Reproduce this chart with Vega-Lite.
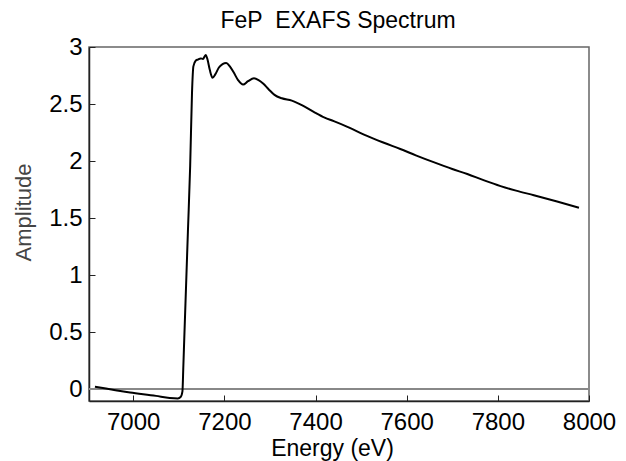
{
  "$schema": "https://vega.github.io/schema/vega-lite/v6.json",
  "autosize": "none",
  "padding": {"left": 89, "top": 47, "right": 37, "bottom": 60},
  "width": 500,
  "height": 354,
  "title": {"text": "FeP\u00a0 EXAFS Spectrum", "font": "Liberation Sans", "fontSize": 23, "fontWeight": "normal", "color": "#000", "offset": 2, "dx": -1},
  "config": {
    "view": {"stroke": "#666", "strokeWidth": 1.5},
    "axis": {"labelFont": "Liberation Sans", "titleFont": "Liberation Sans", "labelColor": "#000", "grid": false, "domainColor": "#222", "tickColor": "#222", "domainWidth": 1.5}
  },
  "data": {"values": [
    {"e": 6916, "a": 0.02}, {"e": 6993, "a": -0.03}, {"e": 7050, "a": -0.06}, {"e": 7080, "a": -0.078},
    {"e": 7098, "a": -0.082}, {"e": 7104, "a": -0.07}, {"e": 7108, "a": -0.02}, {"e": 7110, "a": 0.2},
    {"e": 7112, "a": 0.44}, {"e": 7116, "a": 0.91}, {"e": 7120, "a": 1.38}, {"e": 7125, "a": 1.96},
    {"e": 7129, "a": 2.6}, {"e": 7132, "a": 2.83}, {"e": 7137, "a": 2.88}, {"e": 7142, "a": 2.89},
    {"e": 7148, "a": 2.9}, {"e": 7153, "a": 2.895}, {"e": 7159, "a": 2.93}, {"e": 7163, "a": 2.89},
    {"e": 7168, "a": 2.8}, {"e": 7174, "a": 2.73}, {"e": 7180, "a": 2.76}, {"e": 7188, "a": 2.82},
    {"e": 7196, "a": 2.85}, {"e": 7204, "a": 2.86}, {"e": 7212, "a": 2.83}, {"e": 7220, "a": 2.78},
    {"e": 7230, "a": 2.71}, {"e": 7241, "a": 2.67}, {"e": 7252, "a": 2.7}, {"e": 7265, "a": 2.725},
    {"e": 7275, "a": 2.71}, {"e": 7285, "a": 2.68}, {"e": 7297, "a": 2.63}, {"e": 7310, "a": 2.58},
    {"e": 7326, "a": 2.55}, {"e": 7348, "a": 2.53}, {"e": 7370, "a": 2.49}, {"e": 7396, "a": 2.43},
    {"e": 7420, "a": 2.38}, {"e": 7440, "a": 2.35}, {"e": 7470, "a": 2.3}, {"e": 7513, "a": 2.22},
    {"e": 7550, "a": 2.16}, {"e": 7586, "a": 2.105}, {"e": 7620, "a": 2.05}, {"e": 7659, "a": 1.99},
    {"e": 7700, "a": 1.93}, {"e": 7733, "a": 1.886}, {"e": 7770, "a": 1.83}, {"e": 7806, "a": 1.78},
    {"e": 7840, "a": 1.74}, {"e": 7879, "a": 1.7}, {"e": 7930, "a": 1.645}, {"e": 7978, "a": 1.59}
  ]},
  "layer": [
    {
      "mark": {"type": "rule", "color": "#888", "strokeWidth": 1.2},
      "encoding": {"y": {"datum": 0, "type": "quantitative"}}
    },
    {
      "mark": {"type": "line", "color": "#000", "strokeWidth": 2, "interpolate": "monotone", "clip": true},
      "encoding": {
        "x": {"field": "e", "type": "quantitative", "scale": {"domain": [6903, 8000], "nice": false, "zero": false},
          "axis": {"title": "Energy (eV)", "values": [7000, 7200, 7400, 7600, 7800, 8000], "format": "d", "labelFontSize": 24, "titleFontSize": 23, "titleFontWeight": "normal", "titleColor": "#000", "tickSize": -6, "labelPadding": 15, "labelFlush": false, "titleX": 243, "titleY": 54, "titleBaseline": "alphabetic", "titleAlign": "center"}},
        "y": {"field": "a", "type": "quantitative", "scale": {"domain": [-0.105, 3], "nice": false, "zero": false},
          "axis": {"title": "Amplitude", "values": [0, 0.5, 1, 1.5, 2, 2.5, 3], "format": "~g", "labelFontSize": 24, "titleFontSize": 22, "titleFontWeight": "normal", "titleColor": "#444", "tickSize": -6, "labelPadding": 13, "labelFlush": false, "titleX": -59, "titleY": 165, "titleAngle": -90, "titleAlign": "center", "titleBaseline": "alphabetic"}}
      }
    }
  ]
}
